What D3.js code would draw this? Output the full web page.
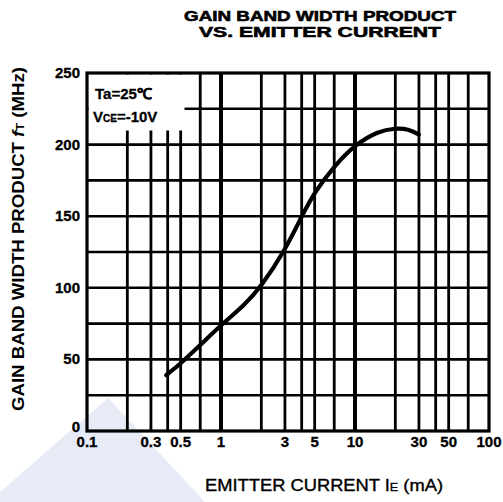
<!DOCTYPE html>
<html>
<head>
<meta charset="utf-8">
<script src="https://cdnjs.cloudflare.com/ajax/libs/d3/7.8.5/d3.min.js"></script>
<style>
  body { margin: 0; background: #fff; }
  svg { display: block; font-family: "Liberation Sans", Arial, sans-serif; font-weight: bold; }
</style>
</head>
<body>
<div id="chart"></div>
<script>
// data
var currentMA = [0.39, 0.5, 0.7, 1, 1.5, 2, 3, 4, 5, 7, 10, 15, 20, 25, 30];
var gainMHz   = [39, 47, 60, 74, 88, 101, 126, 150, 167, 185, 200, 209.5, 211.5, 211, 207];

var xTickVals = [0.1, 0.3, 0.5, 1, 3, 5, 10, 30, 50, 100];
var xTickText = ["0.1", "0.3", "0.5", "1", "3", "5", "10", "30", "50", "100"];
var xGridVals = [0.2, 0.3, 0.4, 0.5, 0.7, 1, 2, 3, 4, 5, 7, 10, 20, 30, 40, 50, 70];
var yTickVals = [0, 50, 100, 150, 200, 250];
var yGridVals = [25, 50, 75, 100, 125, 150, 175, 200, 225];

var W = 503, H = 502;
// plot box (note: "top" is reserved on window, so use pTop etc)
var pLeft = 87, pRight = 489, pTop = 73, pBottom = 431;

var svg = d3.select("#chart").append("svg")
    .attr("width", W)
    .attr("height", H);

// faint blue watermark in the lower left
svg.append("path")
    .attr("d", "M108,398 L205,502 L0,502 L0,492 Z")
    .attr("fill", "#e6ebf6");

var x = d3.scaleLog().domain([0.1, 100]).range([pLeft, pRight]);
var y = d3.scaleLinear().domain([0, 250]).range([pBottom, pTop]);

var grid = svg.append("g").attr("stroke", "#000");

grid.selectAll(".vg")
    .data(xGridVals)
  .enter().append("line")
    .attr("class", "vg")
    .attr("x1", function(d) { return x(d); })
    .attr("x2", function(d) { return x(d); })
    .attr("y1", pTop)
    .attr("y2", pBottom)
    .attr("stroke-width", function(d) { return (d == 1 || d == 10) ? 4 : 2.8; });

grid.selectAll(".hg")
    .data(yGridVals)
  .enter().append("line")
    .attr("class", "hg")
    .attr("x1", pLeft)
    .attr("x2", pRight)
    .attr("y1", function(d) { return y(d); })
    .attr("y2", function(d) { return y(d); })
    .attr("stroke-width", 2.6);

// white panel behind the conditions note
svg.append("rect")
    .attr("x", pLeft + 1.5)
    .attr("y", pTop + 1.5)
    .attr("width", 96)
    .attr("height", 56)
    .attr("fill", "#fff");

svg.append("rect")
    .attr("x", pLeft)
    .attr("y", pTop)
    .attr("width", pRight - pLeft)
    .attr("height", pBottom - pTop)
    .attr("fill", "none")
    .attr("stroke", "#000")
    .attr("stroke-width", 3.2);

var line = d3.line()
    .x(function(d, i) { return x(currentMA[i]); })
    .y(function(d) { return y(d); })
    .curve(d3.curveBasis);

svg.append("path")
    .datum(gainMHz)
    .attr("d", line)
    .attr("fill", "none")
    .attr("stroke", "#000")
    .attr("stroke-width", 4.2)
    .attr("stroke-linecap", "round");

// axis labels
svg.selectAll(".yl")
    .data(yTickVals)
  .enter().append("text")
    .attr("class", "yl")
    .attr("x", pLeft - 7)
    .attr("y", function(d) { return d == 0 ? y(d) + 1 : y(d) + 5; })
    .attr("text-anchor", "end")
    .attr("font-size", 15)
    .attr("stroke", "#000")
    .attr("stroke-width", 0.3)
    .text(function(d) { return d; });

svg.selectAll(".xl")
    .data(xTickVals)
  .enter().append("text")
    .attr("class", "xl")
    .attr("x", function(d) { return x(d); })
    .attr("y", pBottom + 16)
    .attr("text-anchor", "middle")
    .attr("font-size", 15)
    .attr("stroke", "#000")
    .attr("stroke-width", 0.3)
    .text(function(d, i) { return xTickText[i]; });

// conditions
var note = svg.append("g").attr("font-size", 15).attr("stroke", "#000").attr("stroke-width", 0.3);
note.append("text").attr("x", pLeft + 8).attr("y", pTop + 26).text("Ta=25℃");
var vce = note.append("text").attr("x", pLeft + 6).attr("y", pTop + 49);
vce.append("tspan").text("V");
vce.append("tspan").attr("font-size", 10).text("CE");
vce.append("tspan").text("=-10V");

// title
svg.append("text")
    .attr("x", 320).attr("y", 21)
    .attr("text-anchor", "middle")
    .attr("font-size", 15)
    .attr("textLength", 272)
    .attr("lengthAdjust", "spacingAndGlyphs")
    .attr("stroke", "#000")
    .attr("stroke-width", 0.6)
    .text("GAIN BAND WIDTH PRODUCT");
svg.append("text")
    .attr("x", 320).attr("y", 37)
    .attr("text-anchor", "middle")
    .attr("font-size", 15)
    .attr("textLength", 242)
    .attr("lengthAdjust", "spacingAndGlyphs")
    .attr("stroke", "#000")
    .attr("stroke-width", 0.6)
    .text("VS. EMITTER CURRENT");

// y title
var yt = svg.append("text")
    .attr("transform", "translate(24,239) rotate(-90)")
    .attr("text-anchor", "middle")
    .attr("font-size", 16)
    .attr("textLength", 344)
    .attr("lengthAdjust", "spacingAndGlyphs");
yt.append("tspan").text("GAIN BAND WIDTH PRODUCT  ");
yt.append("tspan").attr("font-style", "italic").text("f");
yt.append("tspan").attr("font-size", 11).text("T");
yt.append("tspan").text(" (MHz)");

// x title
var xt = svg.append("text")
    .attr("x", 324).attr("y", 491)
    .attr("text-anchor", "middle")
    .attr("font-size", 16)
    .attr("font-weight", "normal")
    .attr("stroke", "#000")
    .attr("stroke-width", 0.35)
    .attr("textLength", 238)
    .attr("lengthAdjust", "spacingAndGlyphs");
xt.append("tspan").text("EMITTER CURRENT  I");
xt.append("tspan").attr("font-size", 11).text("E");
xt.append("tspan").text(" (mA)");
</script>
</body>
</html>
